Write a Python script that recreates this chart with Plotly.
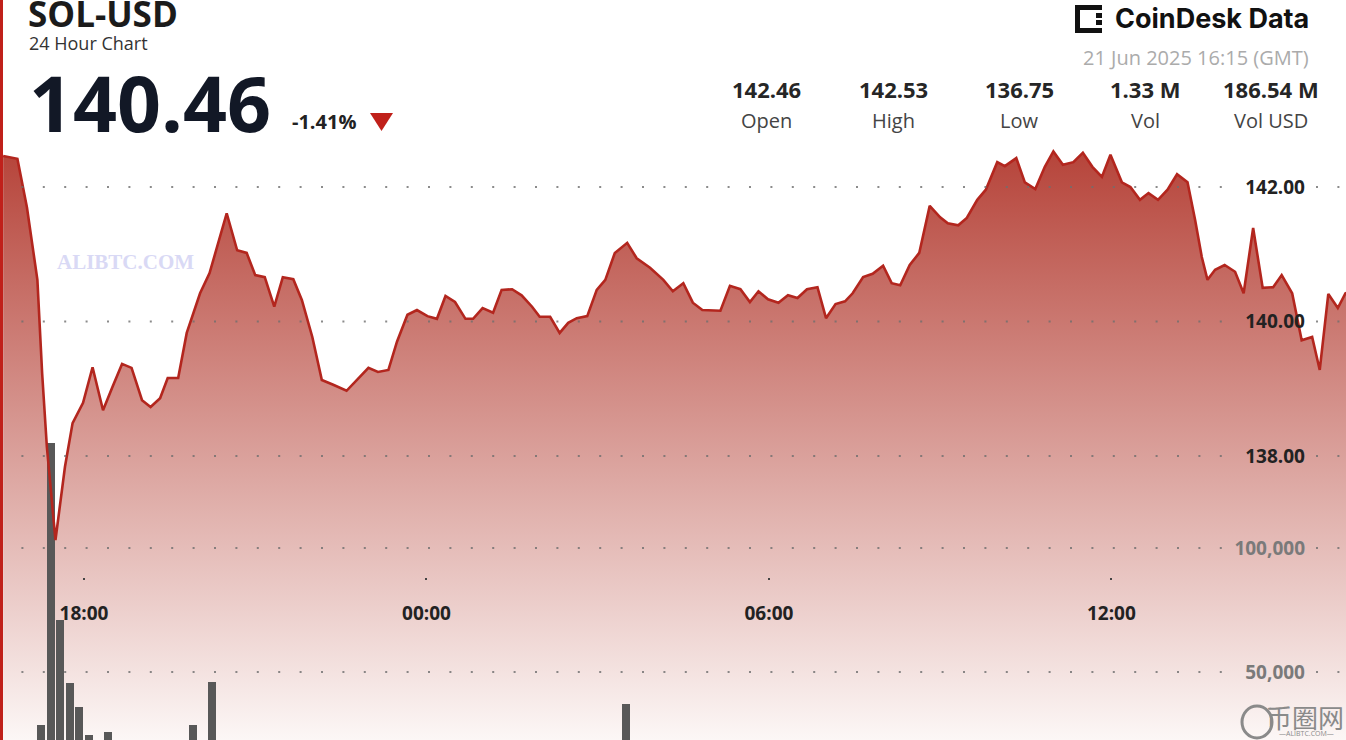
import plotly.graph_objects as go

# ---------------- data ----------------
times_day1 = ["16:35", "16:50", "17:00", "17:11", "17:16", "17:21", "17:30", "17:40", "17:48", "17:59",
              "18:09", "18:20", "18:30", "18:40", "18:50", "19:01", "19:10", "19:20", "19:28", "19:39",
              "19:48", "20:02", "20:12", "20:30", "20:41", "20:51", "21:00", "21:10", "21:20", "21:29",
              "21:40", "21:49", "22:00", "22:10", "22:22", "22:36", "22:59", "23:09", "23:20", "23:29",
              "23:40", "23:50"]
prices_day1 = [142.46, 142.42, 141.70, 140.62, 139.23, 138.13, 136.75, 137.84, 138.49, 138.79,
               139.32, 138.68, 139.03, 139.37, 139.31, 138.83, 138.73, 138.86, 139.16, 139.16,
               139.83, 140.42, 140.72, 141.61, 141.06, 141.02, 140.69, 140.66, 140.22, 140.66,
               140.63, 140.32, 139.77, 139.13, 139.06, 138.97, 139.31, 139.25, 139.28, 139.70,
               140.10, 140.17]
times_day2 = ["00:01", "00:11", "00:20", "00:30", "00:41", "00:49", "00:59", "01:10", "01:19", "01:30",
              "01:40", "01:51", "01:59", "02:10", "02:20", "02:29", "02:38", "02:49", "02:59", "03:08",
              "03:18", "03:31", "03:41", "03:55", "04:09", "04:19", "04:30", "04:40", "04:50", "05:09",
              "05:19", "05:30", "05:40", "05:49", "05:59", "06:10", "06:20", "06:30", "06:40", "06:51",
              "07:00", "07:10", "07:20", "07:28", "07:39", "07:49", "08:00", "08:09", "08:18", "08:28",
              "08:38", "08:49", "09:00", "09:08", "09:19", "09:28", "09:39", "09:48", "10:00", "10:08",
              "10:20", "10:29", "10:40", "10:50", "10:59", "11:09", "11:20", "11:30", "11:40", "11:50",
              "11:59", "12:11", "12:20", "12:30", "12:39", "12:49", "12:59", "13:09", "13:20", "13:28",
              "13:35", "13:41", "13:49", "13:59", "14:10", "14:19", "14:29", "14:39", "14:50", "14:59",
              "15:10", "15:20", "15:31", "15:39", "15:48", "15:58", "16:06", "16:15"]
prices_day2 = [140.08, 140.04, 140.38, 140.29, 140.04, 140.04, 140.20, 140.13, 140.47, 140.48,
               140.39, 140.22, 140.07, 140.07, 139.83, 139.98, 140.05, 140.08, 140.47, 140.62,
               141.02, 141.17, 140.94, 140.80, 140.62, 140.45, 140.57, 140.28, 140.17, 140.16,
               140.53, 140.48, 140.29, 140.45, 140.33, 140.28, 140.39, 140.35, 140.48, 140.51,
               140.05, 140.26, 140.30, 140.42, 140.66, 140.71, 140.83, 140.57, 140.54, 140.84,
               141.02, 141.72, 141.55, 141.46, 141.43, 141.54, 141.81, 141.96, 142.37, 142.31,
               142.43, 142.07, 141.97, 142.30, 142.53, 142.33, 142.37, 142.51, 142.30, 142.15,
               142.48, 142.07, 142.00, 141.81, 141.91, 141.81, 141.96, 142.19, 142.07, 141.51,
               140.96, 140.62, 140.77, 140.84, 140.74, 140.42, 141.39, 140.50, 140.51, 140.69,
               140.42, 139.72, 139.77, 139.28, 140.41, 140.20, 140.42, 140.46]

vol_times = ["2025-06-20 17:15", "2025-06-20 17:25", "2025-06-20 17:35", "2025-06-20 17:45",
             "2025-06-20 17:55", "2025-06-20 18:05", "2025-06-20 18:25", "2025-06-20 19:55",
             "2025-06-20 20:15", "2025-06-21 03:30"]
vol_values = [28600, 142300, 71000, 45600, 35900, 24600, 25800, 28600, 45900, 37100]

price_ticks = [138, 140, 142]
vol_ticks = [50000, 100000]
stat_values = ["142.46", "142.53", "136.75", "1.33 M", "186.54 M"]
stat_labels = ["Open", "High", "Low", "Vol", "Vol USD"]

times = ["2025-06-20 " + t for t in times_day1] + ["2025-06-21 " + t for t in times_day2]
prices = prices_day1 + prices_day2

W, H = 1346, 740
def px(x):
    return x / W
def py(y):
    return 1 - y / H

PRICE_RANGE = [133.777, 144.781]
VOL_RANGE = [22581, 320968]
X_RANGE = ["2025-06-20 16:31:42", "2025-06-21 16:06:36"]

fig = go.Figure()

# gradient area
fig.add_trace(go.Scatter(
    x=times, y=prices, mode="lines", line=dict(width=0, color="rgba(0,0,0,0)"),
    fill="tozeroy",
    fillgradient=dict(type="vertical",
                      colorscale=[[0, "rgb(252,247,246)"], [1, "rgb(182,68,58)"]],
                      start=PRICE_RANGE[0], stop=142.53),
    hoverinfo="skip", showlegend=False, xaxis="x", yaxis="y"))

# volume bars
fig.add_trace(go.Bar(
    x=vol_times, y=vol_values, width=500000, marker=dict(color="#585858", line=dict(width=0)),
    showlegend=False, xaxis="x", yaxis="y2"))

# price line
fig.add_trace(go.Scatter(
    x=times, y=prices, mode="lines", line=dict(width=2.6, color="#b3261e"),
    showlegend=False, xaxis="x", yaxis="y3"))

fig.update_layout(
    width=W, height=H, margin=dict(l=0, r=0, t=0, b=0),
    paper_bgcolor="white", plot_bgcolor="white",
    font=dict(family="Open Sans", color="#222"),
    bargap=0,
    xaxis=dict(range=X_RANGE, type="date", domain=[0, 1], anchor="free", position=py(577),
               showgrid=False, zeroline=False, showline=False,
               tick0="2025-06-20 18:00", dtick=6 * 3600 * 1000, tickformat="%H:%M",
               ticks="outside", ticklen=2, tickwidth=2, tickcolor="#444",
               ticklabelstandoff=17,
               tickfont=dict(size=19, color="#222", weight="bold", family="Open Sans")),
    yaxis=dict(range=PRICE_RANGE, side="right", anchor="x", tickvals=price_ticks, tickformat=".2f",
               ticklabelposition="inside", ticklabelstandoff=38, ticks="",
               showgrid=False, zeroline=False, showline=False,
               tickfont=dict(size=19, color="#222", weight="bold", family="Open Sans")),
    yaxis2=dict(range=VOL_RANGE, overlaying="y", side="right", anchor="x", tickvals=vol_ticks,
                tickformat=",", ticklabelposition="inside", ticklabelstandoff=38, ticks="",
                showgrid=False, zeroline=False, showline=False,
                tickfont=dict(size=19, color="#7a7a7a", weight="bold", family="Open Sans")),
    yaxis3=dict(range=PRICE_RANGE, overlaying="y", side="right", anchor="x", visible=False,
                showgrid=False, zeroline=False),
)

ann = []
def text(x, y, s, size, color="#222", weight="normal", xanchor="left", family="Open Sans", yanchor="middle"):
    ann.append(dict(xref="paper", yref="paper", x=px(x), y=py(y), text=s, showarrow=False,
                    xanchor=xanchor, yanchor=yanchor,
                    font=dict(size=size, color=color, weight=weight, family=family)))

text(26, 13, "SOL-USD", 35, "#1b1b1b", "bold")
text(27, 43, "24 Hour Chart", 18, "#333")
text(27, 102, "140.46", 77, "#121826", "bold")
text(290, 122, "-1.41%", 20, "#222", "bold")
text(1311, 19, "CoinDesk Data", 27, "#111", "bold", xanchor="right", family="Inter")
text(1311, 58, "21 Jun 2025 16:15 (GMT)", 20, "#ababab", xanchor="right")
for cx, v, l in zip([766, 893, 1019, 1145, 1271], stat_values, stat_labels):
    text(cx, 89, v, 22, "#262626", "bold", xanchor="center")
    text(cx, 120, l, 20, "#444", xanchor="center")
text(55, 262, "ALIBTC.COM", 21, "#d9d9f5", "bold", family="Liberation Serif")
text(1346, 716, "币圈网", 26, "#8a8a8a", xanchor="right", family="Noto Sans CJK SC")
text(1336, 733, "—ALIBTC.COM—", 7, "#8a8a8a", xanchor="right")

dot = "2px,19.4px"
grid_color = "rgba(110,110,110,0.8)"
shapes = []
# dotted gridlines drawn over the area fill, broken where the tick labels sit
for axref, vals in (("y", price_ticks), ("y2", vol_ticks)):
    for v in vals:
        for a, b in ((0.0, px(1232)), (px(1316), 1.0)):
            shapes.append(dict(type="line", xref="paper", yref=axref, x0=a, x1=b, y0=v, y1=v,
                               line=dict(color=grid_color, width=2, dash=dot), layer="above"))
shapes += [
    dict(type="line", xref="paper", yref="paper", x0=px(1.5), x1=px(1.5), y0=0, y1=1,
         line=dict(color="#c0201a", width=3)),
    dict(type="path", xref="paper", yref="paper",
         path=f"M {px(370)} {py(113)} L {px(393)} {py(113)} L {px(381.5)} {py(131)} Z",
         fillcolor="#c0201a", line=dict(width=0)),
    # CoinDesk icon (blocky C and colon)
    dict(type="rect", xref="paper", yref="paper", x0=px(1075), x1=px(1080), y0=py(33), y1=py(5),
         fillcolor="#111", line=dict(width=0)),
    dict(type="rect", xref="paper", yref="paper", x0=px(1075), x1=px(1102), y0=py(10), y1=py(5),
         fillcolor="#111", line=dict(width=0)),
    dict(type="rect", xref="paper", yref="paper", x0=px(1075), x1=px(1102), y0=py(33), y1=py(28),
         fillcolor="#111", line=dict(width=0)),
    dict(type="rect", xref="paper", yref="paper", x0=px(1096), x1=px(1102), y0=py(18), y1=py(13),
         fillcolor="#111", line=dict(width=0)),
    dict(type="rect", xref="paper", yref="paper", x0=px(1096), x1=px(1102), y0=py(25), y1=py(20),
         fillcolor="#111", line=dict(width=0)),
    dict(type="circle", xref="paper", yref="paper", x0=px(1242), x1=px(1272), y0=py(738), y1=py(706),
         line=dict(color="#8a8a8a", width=3)),
]
fig.update_layout(annotations=ann, shapes=shapes)

fig.write_html("out.html", config={"displayModeBar": False},
               post_script="document.body.style.margin='0';document.body.style.overflow='hidden';")
